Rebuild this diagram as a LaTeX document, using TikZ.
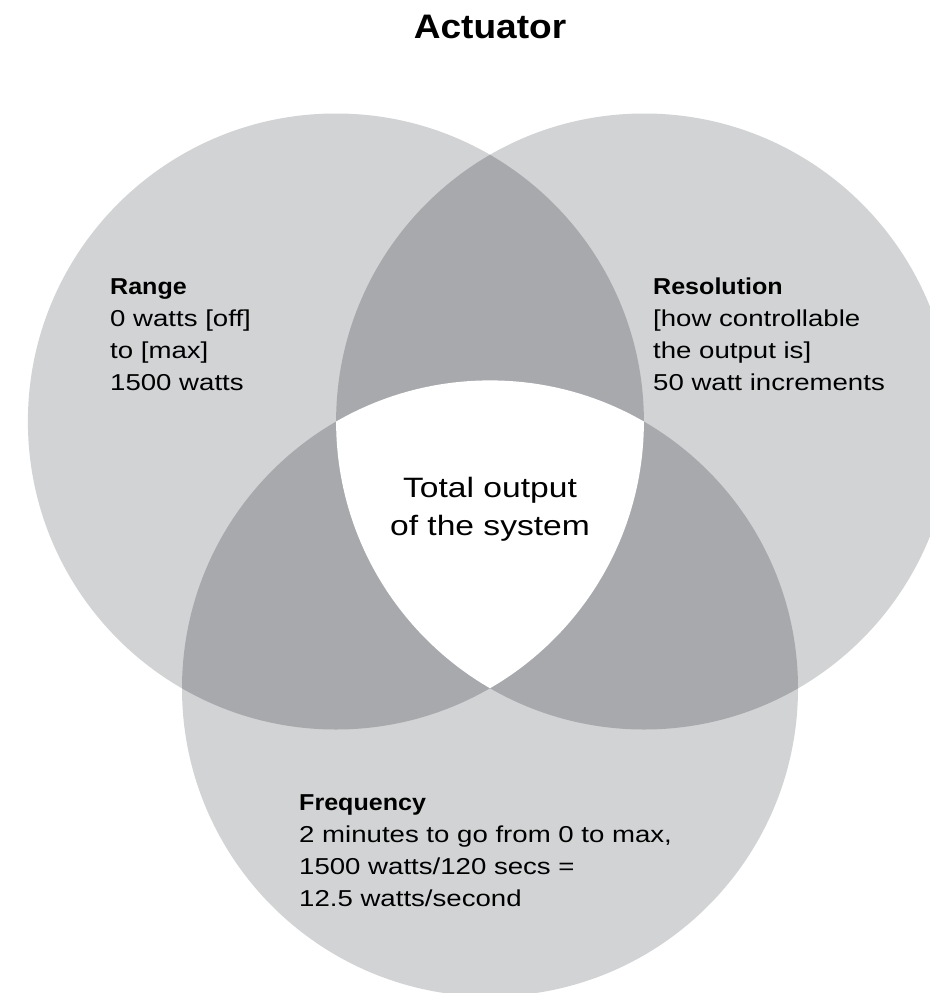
\documentclass[tikz,border=0pt]{standalone}
\usepackage{fontspec}
\setmainfont{Liberation Sans}
\newfontfamily\rgfont{Liberation Sans}[FakeStretch=1.2]
\newfontfamily\bdfont{Liberation Sans Bold}[FakeStretch=1.09]
\definecolor{lightg}{HTML}{D1D3D4}
\definecolor{darkg}{HTML}{A7A9AC}
\begin{document}
\begin{tikzpicture}[x=1pt,y=-1pt,
  body/.style={anchor=base west, inner sep=0pt, font=\rgfont\fontsize{23}{32}\selectfont},
  centertext/.style={anchor=base, inner sep=0pt, font=\rgfont\fontsize{28}{38}\selectfont},
  titletext/.style={anchor=base, inner sep=0pt, font=\bdfont\fontsize{34}{40}\selectfont}]
\fill[white] (0,0) rectangle (929,993);
\path[use as bounding box] (0,0) rectangle (929,993);
\coordinate (cL) at (335.9,421.5);
\coordinate (cR) at (644.1,421.5);
\coordinate (cB) at (490,688.4);
% base circles
\fill[lightg] (cL) circle[radius=308pt];
\fill[lightg] (cR) circle[radius=308pt];
\fill[lightg] (cB) circle[radius=308pt];
% pairwise overlaps
\begin{scope}
  \clip (cL) circle[radius=308pt];
  \fill[darkg] (cR) circle[radius=308pt];
  \fill[darkg] (cB) circle[radius=308pt];
\end{scope}
\begin{scope}
  \clip (cR) circle[radius=308pt];
  \fill[darkg] (cB) circle[radius=308pt];
\end{scope}
% triple overlap
\begin{scope}
  \clip (cL) circle[radius=308pt];
  \clip (cR) circle[radius=308pt];
  \fill[white] (cB) circle[radius=308pt];
\end{scope}
% texts
\node[titletext] (title) at (490,38) {Actuator};
\node[body] (range) at (110,294) {\vtop{\hbox{\bdfont Range}\hbox{0 watts [off]}\hbox{to [max]}\hbox{1500 watts}}};
\node[body] (resolution) at (653,294) {\vtop{\hbox{\bdfont Resolution}\hbox{[how controllable}\hbox{the output is]}\hbox{50 watt increments}}};
\node[body] (frequency) at (299,810) {\vtop{\hbox{\bdfont Frequency}\hbox{2 minutes to go from 0 to max,}\hbox{1500 watts/120 secs =}\hbox{12.5 watts/second}}};
\node[centertext] (total1) at (490,497) {Total output};
\node[centertext] (total2) at (490,535) {of the system};
\end{tikzpicture}
\end{document}
